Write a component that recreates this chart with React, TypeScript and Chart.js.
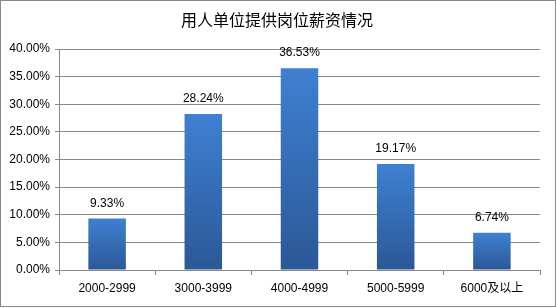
import React, { useEffect, useRef } from "react";
import { Chart, registerables } from "chart.js";

Chart.register(...registerables);

const TITLE = "用人单位提供岗位薪资情况";
const categories = ["2000-2999", "3000-3999", "4000-4999", "5000-5999", "6000及以上"];
const values = [9.33, 28.24, 36.53, 19.17, 6.74];
const yMax = 40;
const yStep = 5;

const FONT = "'Liberation Sans', 'Noto Sans CJK SC', sans-serif";
const TITLE_FONT = "'Noto Sans CJK SC', sans-serif";

export default function App() {
  const ref = useRef<HTMLCanvasElement | null>(null);

  useEffect(() => {
    document.body.style.margin = "0";
    const canvas = ref.current;
    if (!canvas) return;

    const labelsPlugin = {
      id: "extras",
      afterDatasetsDraw(chart: any) {
        const ctx = chart.ctx;
        const meta = chart.getDatasetMeta(0);
        ctx.save();
        ctx.font = `12px ${FONT}`;
        ctx.fillStyle = "#000";
        ctx.textAlign = "center";
        ctx.textBaseline = "middle";
        meta.data.forEach((bar: any, i: number) => {
          ctx.fillText(values[i].toFixed(2) + "%", bar.x, bar.y - 15);
        });
        ctx.restore();
      },
      afterDraw(chart: any) {
        const ctx = chart.ctx;
        ctx.save();
        ctx.font = `16px ${TITLE_FONT}`;
        ctx.fillStyle = "#000";
        ctx.textAlign = "center";
        ctx.textBaseline = "middle";
        ctx.fillText(TITLE, 277, 20);
        ctx.restore();
      },
    };

    const chart = new Chart(canvas, {
      type: "bar",
      data: {
        labels: categories,
        datasets: [
          {
            data: values,
            barPercentage: 0.39,
            categoryPercentage: 1,
            backgroundColor: (c: any) => {
              const ch = c.chart;
              const ys = ch.scales && ch.scales.y;
              if (!ys || c.raw == null) return "#3a72c0";
              const top = ys.getPixelForValue(c.raw);
              const bot = ys.getPixelForValue(0);
              if (!isFinite(top) || !isFinite(bot) || bot - top < 1) return "#3a72c0";
              const g = ch.ctx.createLinearGradient(0, top, 0, bot);
              g.addColorStop(0, "#3f80d2");
              g.addColorStop(1, "#2b5896");
              return g;
            },
            borderWidth: 0,
          },
        ],
      },
      options: {
        animation: false,
        responsive: false,
        maintainAspectRatio: false,
        layout: { padding: { top: 49, right: 16, bottom: 0, left: 0 } },
        plugins: {
          legend: { display: false },
          title: { display: false },
          tooltip: { enabled: false },
        },
        scales: {
          x: {
            offset: true,
            grid: {
              offset: true,
              drawOnChartArea: false,
              drawTicks: true,
              tickLength: 5,
              color: "#888",
            },
            border: { color: "#888" },
            ticks: {
              color: "#000",
              font: { family: FONT, size: 12 },
              padding: 6,
              maxRotation: 0,
            },
            afterFit: (s: any) => {
              s.height = 38;
            },
          },
          y: {
            min: 0,
            max: yMax,
            grid: { color: "#888", tickLength: 4 },
            border: { color: "#888" },
            ticks: {
              stepSize: yStep,
              color: "#000",
              font: { family: FONT, size: 12 },
              padding: 5,
              callback: (v: any) => Number(v).toFixed(2) + "%",
            },
            afterFit: (s: any) => {
              s.width = 59;
            },
          },
        },
      },
      plugins: [labelsPlugin],
    });
    return () => chart.destroy();
  }, []);

  return (
    <div style={{ position: "relative", width: 556, height: 308 }}>
      <canvas ref={ref} width={556} height={308} style={{ position: "absolute", left: 0, top: 0 }} />
      <div
        style={{
          position: "absolute",
          left: 0,
          top: 0,
          width: 554,
          height: 305,
          border: "1px solid #888",
          pointerEvents: "none",
        }}
      />
    </div>
  );
}
